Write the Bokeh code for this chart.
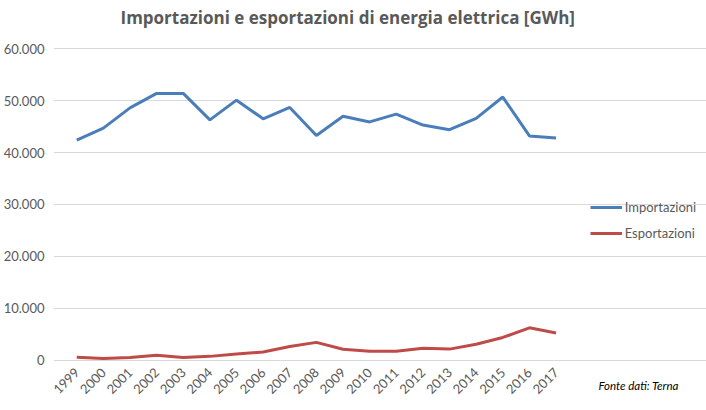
import math
from bokeh.plotting import figure
from bokeh.models import (Range1d, Legend, LegendItem, Label,
                          CustomJSTickFormatter, FixedTicker)
from bokeh.embed import file_html
from bokeh.resources import INLINE

years = list(range(1999, 2018))
importazioni = [42400, 44700, 48600, 51400, 51400, 46300, 50100, 46500, 48700,
                43300, 47000, 45900, 47400, 45300, 44400, 46600, 50700, 43200, 42800]
esportazioni = [520, 300, 500, 920, 500, 700, 1150, 1550, 2600, 3400,
                2060, 1700, 1700, 2250, 2100, 3050, 4350, 6200, 5200]
y_ticks = [0, 10000, 20000, 30000, 40000, 50000, 60000]

TXT = "#595959"

# frame covers the whole canvas right of the y-axis; the ranges are widened so
# that the legend, title and source note can sit inside it
p = figure(width=706, height=410,
           x_range=Range1d(1998.127, 2022.65), y_range=Range1d(-9736, 69312),
           output_backend="svg", toolbar_location=None,
           min_border_left=48, min_border_right=0,
           min_border_top=0, min_border_bottom=0)
p.outline_line_color = None
p.background_fill_color = "white"
p.border_fill_color = "white"

r1 = p.line(years, importazioni, line_color="#4A7EBB", line_width=3)
r2 = p.line(years, esportazioni, line_color="#BE4B48", line_width=3)

p.xgrid.grid_line_color = None
p.ygrid.grid_line_color = "#D9D9D9"
p.ygrid.grid_line_width = 1
p.ygrid.bounds = (1998.5, 2017.5)

p.yaxis.ticker = FixedTicker(ticks=y_ticks)
p.yaxis.formatter = CustomJSTickFormatter(code="""
return tick.toFixed(0).replace(/\\B(?=(\\d{3})+(?!\\d))/g, '.');
""")
p.xaxis.ticker = FixedTicker(ticks=years)
p.xaxis.fixed_location = 0
for ax in (p.xaxis[0], p.yaxis[0]):
    ax.axis_line_color = None
    ax.major_tick_line_color = None
    ax.minor_tick_line_color = None
    ax.major_label_text_color = TXT
    ax.major_label_text_font = "Lato"
    ax.major_label_text_font_size = "13px"
p.yaxis.major_label_standoff = 3
p.xaxis.major_label_orientation = math.pi / 4
p.xaxis.major_label_standoff = 4

legend = Legend(items=[LegendItem(label="Importazioni", renderers=[r1]),
                       LegendItem(label="Esportazioni", renderers=[r2])],
                location=(536.7, 166.7), orientation="vertical",
                padding=0, margin=0, spacing=6, glyph_width=32, glyph_height=20,
                label_standoff=3, border_line_color=None,
                background_fill_alpha=0, label_text_font="Lato",
                label_text_font_size="13px", label_text_color=TXT)
p.add_layout(legend, "center")

title = Label(x=67, y=393, x_units="screen", y_units="screen",
              text="Importazioni e esportazioni di energia elettrica [GWh]",
              text_font="Open Sans", text_font_style="bold",
              text_font_size="17px", text_color=TXT,
              text_align="left", text_baseline="middle")
p.add_layout(title)

fonte = Label(x=545, y=25, x_units="screen", y_units="screen",
              text="Fonte dati: Terna", text_font="Lato",
              text_font_style="italic", text_font_size="11.5px",
              text_color="#000000", text_align="left", text_baseline="middle")
p.add_layout(fonte)

open("out.html", "w").write(file_html(p, INLINE))
